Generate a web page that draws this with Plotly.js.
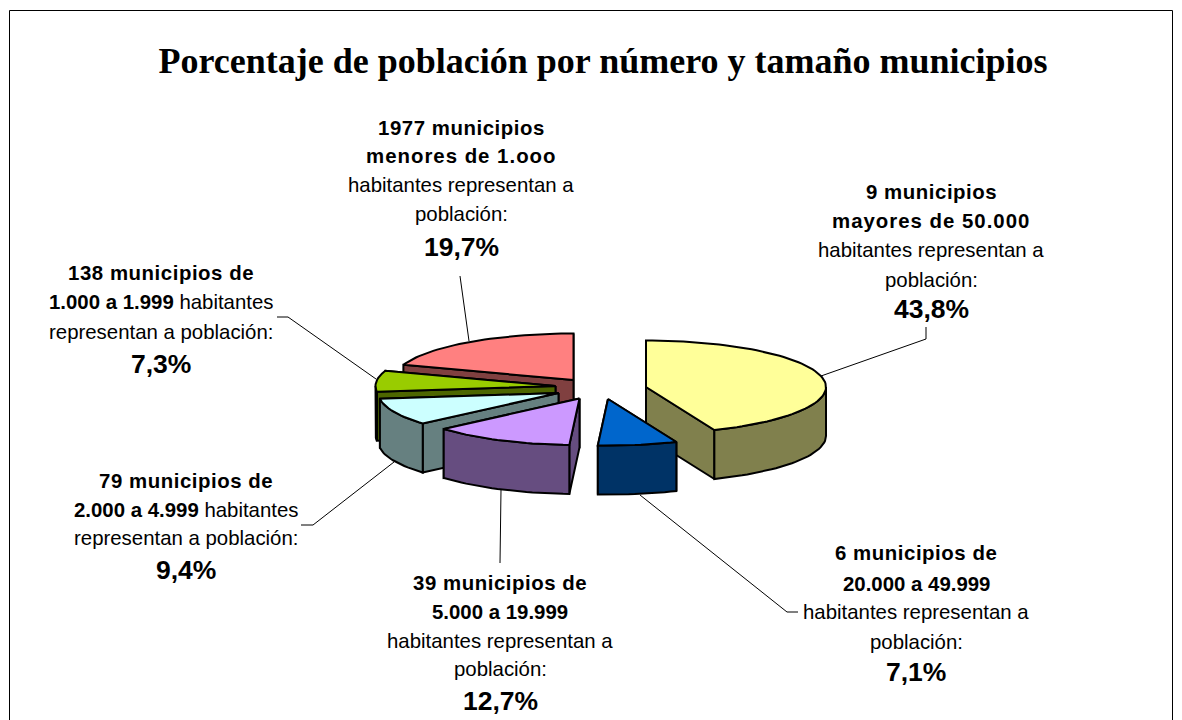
<!DOCTYPE html>
<html><head><meta charset="utf-8">
<script src="https://cdn.plot.ly/plotly-3.0.1.min.js"></script>
<style>html,body{margin:0;padding:0;background:#fff}#c{width:1182px;height:720px}</style>
</head><body><div id="c"></div>
<script>
// ---- data ----
var categories = ["9 municipios mayores de 50.000","6 municipios de 20.000 a 49.999","39 municipios de 5.000 a 19.999","79 municipios de 2.000 a 4.999","138 municipios de 1.000 a 1.999","1977 municipios menores de 1.000"];
var shares = [43.8, 7.1, 12.7, 9.4, 7.3, 19.7];
var topColors  = ["#FFFF99","#0066CC","#CC99FF","#CCFFFF","#99CC00","#FF8080"];
var sideColors = ["#80804D","#003366","#664D80","#668080","#4D6600","#804040"];
var percentLabels = ["43,8%","7,1%","12,7%","9,4%","7,3%","19,7%"];
var labelLines = [
 ["<b>9 municipios</b>","<b>mayores de 50.000</b>","habitantes representan a","población:"],
 ["<b>6 municipios de</b>","<b>20.000 a 49.999</b>","habitantes representan a","población:"],
 ["<b>39 municipios de</b>","<b>5.000 a 19.999</b>","habitantes representan a","población:"],
 ["<b>79 municipios de</b>","<b>2.000 a 4.999</b> habitantes","representan a población:"],
 ["<b>138 municipios de</b>","<b>1.000 a 1.999</b> habitantes","representan a población:"],
 ["<b>1977 municipios</b>","<b>menores de 1.ooo</b>","habitantes representan a","población:"]
];
// ---- geometry of the drawing (pixels of the page) ----
var apexX = [646,608,579.5,558.5,555.5,573.5];
var apexY = [387,399,398.5,393,386,380];
var labelX = [931,916,500,186,161,461];
var labelY = [[192,221,250,280,309],[553,584,612,642,672],[583,612,641,669,701],[481,510,538,570],[273,302,332,364],[128,156,185,214,247]];
var leaderX = [[926,926,821],[798,787,640],[501,500],[301,313,394],[277,288,376],[460,469]];
var leaderY = [[327,339,376],[612,612,495],[490,563],[525,525,462],[317,317,379],[276,341]];
var rx = 180, ry = 46.5, depth = 49;

function pt(i, deg, dz){
  var a = deg*Math.PI/180;
  return [apexX[i]+rx*Math.sin(a), apexY[i]-ry*Math.cos(a)+(dz||0)];
}
function poly(points, fill){
  var xs = points.map(function(p){return p[0]}), ys = points.map(function(p){return p[1]});
  xs.push(xs[0]); ys.push(ys[0]);
  return {type:"scatter",mode:"lines",x:xs,y:ys,fill:"toself",fillcolor:fill,
          line:{color:"#000",width:2,shape:"linear"},hoverinfo:"skip",showlegend:false};
}
function face(i, deg){
  var p = pt(i,deg,0), q = pt(i,deg,depth);
  return poly([[apexX[i],apexY[i]],p,q,[apexX[i],apexY[i]+depth]], sideColors[i]);
}
function arcPts(i,a0,a1,dz){
  var out=[], n=Math.max(2,Math.ceil((a1-a0)/2));
  for(var k=0;k<=n;k++) out.push(pt(i,a0+(a1-a0)*k/n,dz));
  return out;
}
var traces = [];
var starts = [], acc = 0;
shares.forEach(function(s){ starts.push(acc); acc += s*3.6; });
var order = [5,4,3,2,0,1];
order.forEach(function(i){
  var a0 = starts[i], a1 = a0 + shares[i]*3.6;
  traces.push(face(i,a1));
  traces.push(face(i,a0));
  var v0 = Math.max(a0,90), v1 = Math.min(a1,270);
  if(v1>v0) traces.push(poly(arcPts(i,v0,v1,0).concat(arcPts(i,v0,v1,depth).reverse()), sideColors[i]));
  traces.push(poly([[apexX[i],apexY[i]]].concat(arcPts(i,a0,a1,0)), topColors[i]));
});
leaderX.forEach(function(xs,i){
  traces.push({type:"scatter",mode:"lines",x:xs,y:leaderY[i],line:{color:"#000",width:1},hoverinfo:"skip",showlegend:false});
});
function spaced(t){
  var sp = /mayores|menores/.test(t) ? 1 : /municipios/.test(t) ? 0.55 : 0;
  return sp ? '<span style="letter-spacing:'+sp+'px">'+t+'</span>' : t;
}
var annotations = [];
labelLines.forEach(function(lines,i){
  lines.map(spaced).concat(["<b>"+percentLabels[i]+"</b>"]).forEach(function(t,k){
    var big = k===lines.length;
    annotations.push({xref:"x",yref:"y",x:labelX[i],y:labelY[i][k],text:t,showarrow:false,
      xanchor:"center",yanchor:"middle",
      font:{family:"'Liberation Sans',Arial,sans-serif",size:big?26.5:20.4,color:"#000"}});
  });
});
var layout = {
  width:1182,height:720,margin:{l:0,r:0,t:0,b:0},paper_bgcolor:"#fff",plot_bgcolor:"#fff",showlegend:false,
  title:{text:"<b>Porcentaje de población por número y tamaño municipios</b>",x:603/1182,xanchor:"center",y:1-60/720,yanchor:"middle",
         font:{family:"'Liberation Serif','Times New Roman',serif",size:36,color:"#000"}},
  xaxis:{range:[0,1182],visible:false,fixedrange:true},
  yaxis:{range:[720,0],visible:false,fixedrange:true},
  shapes:[{type:"rect",xref:"x",yref:"y",x0:9.5,x1:1172.5,y0:10.5,y1:730,line:{color:"#000",width:1},fillcolor:"rgba(0,0,0,0)",layer:"below"}],
  annotations:annotations
};
Plotly.newPlot("c",traces,layout,{displayModeBar:false,staticPlot:true});
</script></body></html>
